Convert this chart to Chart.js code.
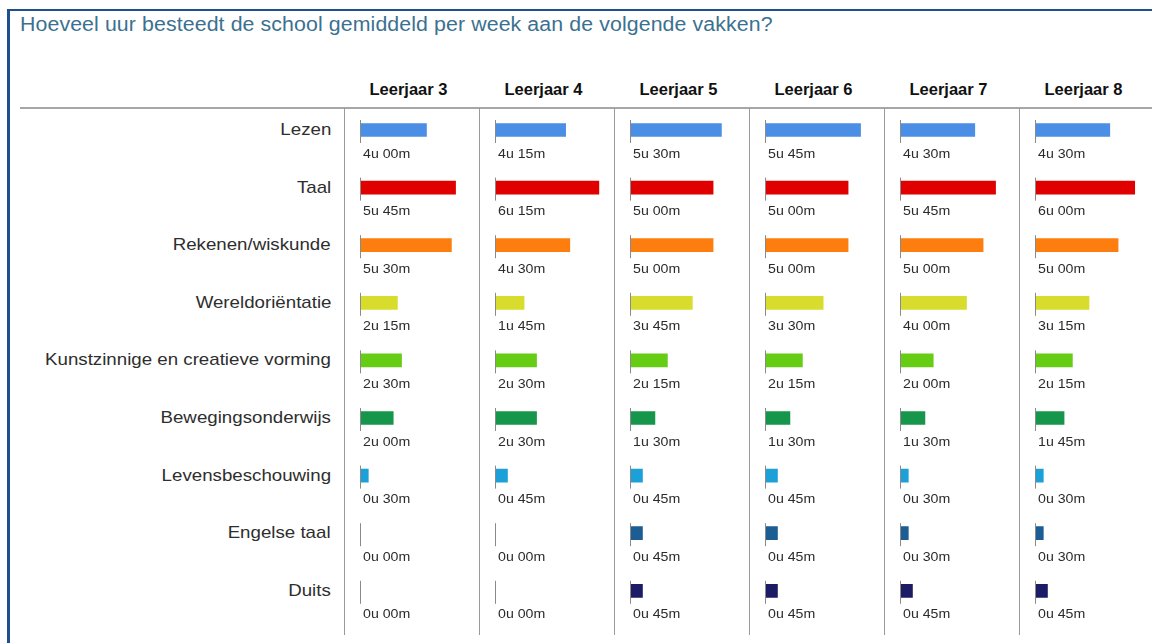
<!DOCTYPE html>
<html>
<head>
<meta charset="utf-8">
<script src="https://cdn.jsdelivr.net/npm/chart.js@4/dist/chart.umd.min.js"></script>
<style>
  html, body { margin: 0; padding: 0; background: #fff; }
  body { width: 1152px; height: 643px; position: relative; overflow: hidden; font-family: "Liberation Sans", Arial, sans-serif; }
  #frame { position: absolute; left: 7px; top: 9px; width: 1200px; height: 700px; border-left: 3px solid #1f4f8e; border-top: 2px solid #1f4f8e; }
  #title { position: absolute; left: 20px; top: 12px; font-size: 20px; line-height: 24px; letter-spacing: 0.1px; color: #3b7190; white-space: nowrap; transform: scaleX(1.065); transform-origin: left center; }
  #hline { position: absolute; left: 20px; top: 107px; width: 1140px; height: 2px; background: #a6a6a6; }
  .vsep { position: absolute; top: 108px; width: 1px; height: 527px; background: #9a9a9a; }
  .hdr { position: absolute; top: 78px; width: 135px; text-align: center; font-weight: bold; font-size: 16.5px; line-height: 22px; color: #111; white-space: nowrap; }
  .cat { position: absolute; right: 821px; font-size: 17px; line-height: 22px; color: #2e2e2e; white-space: nowrap; text-align: right; transform: scaleX(1.1); transform-origin: right center; }
  canvas.col { position: absolute; top: 60px; }
</style>
</head>
<body>
<div id="frame"></div>
<div id="title">Hoeveel uur besteedt de school gemiddeld per week aan de volgende vakken?</div>
<div id="hline"></div>
<div id="wrap"></div>
<script>
// ---- data ----
const categories = ["Lezen", "Taal", "Rekenen/wiskunde", "Wereldoriëntatie", "Kunstzinnige en creatieve vorming", "Bewegingsonderwijs", "Levensbeschouwing", "Engelse taal", "Duits"];
const years = ["Leerjaar 3", "Leerjaar 4", "Leerjaar 5", "Leerjaar 6", "Leerjaar 7", "Leerjaar 8"];
// hours per week, one array per school year (same order as categories)
const leerjaar3 = [4.00, 5.75, 5.50, 2.25, 2.50, 2.00, 0.50, 0.00, 0.00];
const leerjaar4 = [4.25, 6.25, 4.50, 1.75, 2.50, 2.50, 0.75, 0.00, 0.00];
const leerjaar5 = [5.50, 5.00, 5.00, 3.75, 2.25, 1.50, 0.75, 0.75, 0.75];
const leerjaar6 = [5.75, 5.00, 5.00, 3.50, 2.25, 1.50, 0.75, 0.75, 0.75];
const leerjaar7 = [4.50, 5.75, 5.00, 4.00, 2.00, 1.50, 0.50, 0.50, 0.75];
const leerjaar8 = [4.50, 6.00, 5.00, 3.25, 2.25, 1.75, 0.50, 0.50, 0.75];
const seriesByYear = [leerjaar3, leerjaar4, leerjaar5, leerjaar6, leerjaar7, leerjaar8];
const barColors = ["#4a8ee6", "#e00000", "#fd7e0f", "#d8dc2c", "#66cc14", "#16964a", "#1ba1d8", "#1c5d94", "#1b1b66"];

// ---- layout ----
const COL_X0 = 344, COL_W = 135;
const ROW_Y0 = 130, ROW_H = 57.6;

function fmt(h) {
  const total = Math.round(h * 60);
  const hh = Math.floor(total / 60), mm = total % 60;
  return hh + "u " + String(mm).padStart(2, "0") + "m";
}

const wrap = document.getElementById("wrap");

// category labels
categories.forEach((c, i) => {
  const d = document.createElement("div");
  d.className = "cat";
  d.textContent = c;
  d.style.top = (ROW_Y0 + ROW_H * i - 11) + "px";
  wrap.appendChild(d);
});

// separators and headers
years.forEach((y, k) => {
  const s = document.createElement("div");
  s.className = "vsep";
  s.style.left = (COL_X0 + COL_W * k) + "px";
  wrap.appendChild(s);
  const h = document.createElement("div");
  h.className = "hdr";
  h.textContent = y;
  h.style.left = (COL_X0 + COL_W * k - 3) + "px";
  wrap.appendChild(h);
});

const labelPlugin = {
  id: "valueLabels",
  afterDatasetsDraw(chart) {
    const ctx = chart.ctx;
    const xs = chart.scales.x, ys = chart.scales.y;
    const x0 = xs.getPixelForValue(0);
    const data = chart.data.datasets[0].data;
    data.forEach((v, i) => {
      const yc = ys.getPixelForValue(i);
      ctx.save();
      ctx.strokeStyle = "#8a8a8a";
      ctx.lineWidth = 1;
      ctx.beginPath();
      ctx.moveTo(x0 + 0.5, yc - 10);
      ctx.lineTo(x0 + 0.5, yc + 13);
      ctx.stroke();
      ctx.translate(x0 + 3, yc + 24);
      ctx.scale(1.09, 1);
      ctx.fillStyle = "#2b2b2b";
      ctx.font = "13px 'Liberation Sans', Arial, sans-serif";
      ctx.textAlign = "left";
      ctx.textBaseline = "middle";
      ctx.fillText(fmt(v), 0, 0);
      ctx.restore();
    });
  }
};

const CANVAS_TOP = 60, CANVAS_H = 583;
seriesByYear.forEach((vals, k) => {
  const cv = document.createElement("canvas");
  cv.className = "col";
  cv.width = 134; cv.height = CANVAS_H;
  cv.style.width = "134px"; cv.style.height = CANVAS_H + "px";
  cv.style.left = (COL_X0 + COL_W * k + 1) + "px";
  wrap.appendChild(cv);
  const top = ROW_Y0 - ROW_H / 2 - CANVAS_TOP;
  const bottom = CANVAS_H - (top + ROW_H * categories.length);
  new Chart(cv, {
    type: "bar",
    data: {
      labels: categories,
      datasets: [{
        data: vals,
        backgroundColor: barColors,
        borderWidth: 0,
        barThickness: 13
      }]
    },
    options: {
      indexAxis: "y",
      responsive: false,
      animation: false,
      events: [],
      layout: { padding: { left: 15, right: 1, top: top, bottom: bottom } },
      plugins: { legend: { display: false }, tooltip: { enabled: false }, title: { display: false } },
      scales: {
        x: { display: false, min: 0, max: 7.1 },
        y: { display: false, offset: true }
      }
    },
    plugins: [labelPlugin]
  });
});
</script>
</body>
</html>
